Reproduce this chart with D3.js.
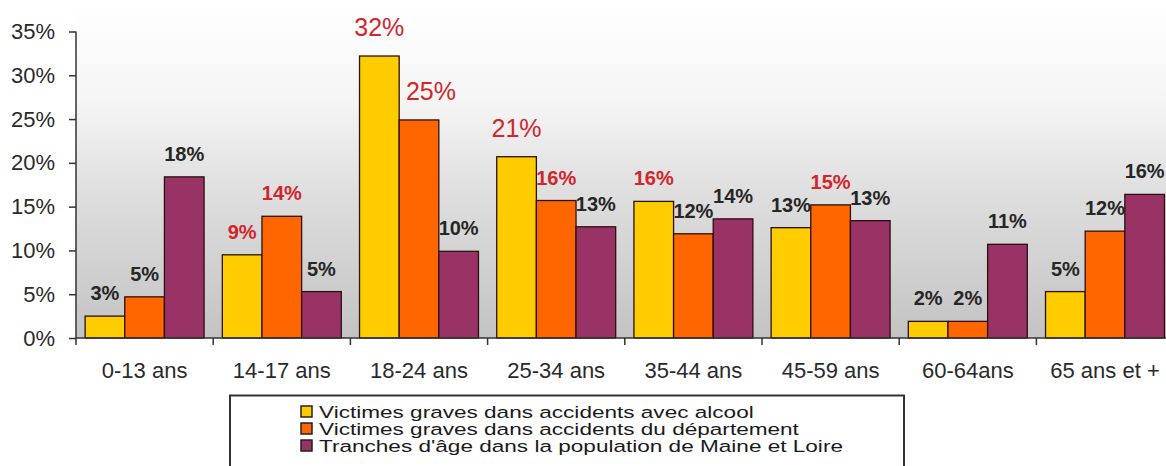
<!DOCTYPE html>
<html><head><meta charset="utf-8">
<script src="https://cdn.jsdelivr.net/npm/d3@7"></script>
<style>html,body{margin:0;padding:0;background:#fff;overflow:hidden}svg{display:block}</style>
</head><body>
<svg id="chart" width="1166" height="466"></svg>
<script>
const categories = ["0-13 ans","14-17 ans","18-24 ans","25-34 ans","35-44 ans","45-59 ans","60-64ans","65 ans et +"];
const seriesNames = ["Victimes graves dans accidents avec alcool","Victimes graves dans accidents du département","Tranches d'âge dans la population de Maine et Loire"];
const alcool = [2.5, 9.5, 32.2, 20.7, 15.6, 12.6, 1.9, 5.3];
const departement = [4.7, 13.9, 24.9, 15.7, 11.9, 15.2, 1.9, 12.2];
const population = [18.4, 5.3, 9.9, 12.7, 13.6, 13.4, 10.7, 16.4];
const labelsAlcool = ["3%","9%","32%","21%","16%","13%","2%","5%"];
const labelsDep = ["5%","14%","25%","16%","12%","15%","2%","12%"];
const labelsPop = ["18%","5%","10%","13%","14%","13%","11%","16%"];
const yTicks = [0,5,10,15,20,25,30,35];

// style: which labels are highlighted (red) and which are large
const redLabels = {"0":[1,2,3,4], "1":[1,2,3,5]};
const bigLabels = {"0":[2,3], "1":[2]};

const series = [alcool, departement, population];
const seriesLabels = [labelsAlcool, labelsDep, labelsPop];
const colors = ["#ffcc00","#ff6600","#993366"];

const svg = d3.select("#chart");
const x0 = 76, yBottom = 338;
const x = d3.scaleBand().domain(categories).range([x0, x0 + 8*137.2]).paddingInner(0.133).paddingOuter(0.0665);
const xs = d3.scaleBand().domain([0,1,2]).range([0, x.bandwidth()]);
const y = d3.scaleLinear().domain([0,35]).range([yBottom, 31.5]);

// background gradient
const defs = svg.append("defs");
const g = defs.append("linearGradient").attr("id","bg").attr("x1",0).attr("y1",0).attr("x2",0).attr("y2",1);
[[0,"#ffffff"],[0.3,"#f5f5f5"],[0.55,"#e0e0e0"],[1,"#c3c3c3"]].forEach(s=>g.append("stop").attr("offset",s[0]).attr("stop-color",s[1]));
svg.append("rect").attr("x",x0).attr("y",0).attr("width",1166-x0).attr("height",yBottom).attr("fill","url(#bg)");

// bars
series.forEach((vals, si) => {
  svg.append("g").selectAll("rect").data(vals).join("rect")
    .attr("x",(d,i)=>x(categories[i]) + xs(si))
    .attr("y",d=>y(d))
    .attr("width",xs.bandwidth())
    .attr("height",d=>yBottom - y(d))
    .attr("fill",colors[si])
    .attr("stroke","#2a1010").attr("stroke-width",1.3);
});

// y axis
const yAxis = d3.axisLeft(y).tickValues(yTicks).tickFormat(d=>d+"%").tickSize(7).tickPadding(14);
const ya = svg.append("g").attr("transform",`translate(${x0},0)`).call(yAxis);
ya.select(".domain").remove();
ya.append("line").attr("x1",0).attr("x2",0).attr("y1",y(35)).attr("y2",yBottom+7).attr("stroke","#333").attr("stroke-width",1.5);
ya.selectAll(".tick line").attr("stroke","#333").attr("stroke-width",1.5);
ya.selectAll(".tick text").attr("font-family","Liberation Sans, Arial, sans-serif").attr("font-size",22).attr("fill","#2a2a2a");

// x axis
svg.append("line").attr("x1",x0).attr("x2",1166).attr("y1",yBottom).attr("y2",yBottom).attr("stroke","#333").attr("stroke-width",1.5);
const bounds = categories.slice(1).map(c => x(c) - x.step()*x.paddingOuter());
svg.append("g").selectAll("line").data(bounds).join("line")
  .attr("x1",d=>d).attr("x2",d=>d).attr("y1",yBottom).attr("y2",yBottom+7).attr("stroke","#333").attr("stroke-width",1.5);
svg.append("g").selectAll("text").data(categories).join("text")
  .attr("x",d=>x(d)+x.bandwidth()/2).attr("y",378)
  .attr("text-anchor","middle").attr("font-family","Liberation Sans, Arial, sans-serif").attr("font-size",22).attr("fill","#2a2a2a")
  .text(d=>d);

// value labels
seriesLabels.forEach((labs, si) => {
  const reds = redLabels[si] || [], bigs = bigLabels[si] || [];
  svg.append("g").selectAll("text").data(labs).join("text")
    .attr("x",(d,i)=>x(categories[i]) + xs(si) + xs.bandwidth()/2 + (bigs.includes(i) && si===1 ? 12 : 0))
    .attr("y",(d,i)=>y(series[si][i]) - (bigs.includes(i) ? 20 : 16))
    .attr("text-anchor","middle")
    .attr("font-family","Liberation Sans, Arial, sans-serif")
    .attr("font-size",(d,i)=>bigs.includes(i) ? 25 : 20)
    .attr("font-weight",(d,i)=>bigs.includes(i) ? "normal" : "bold")
    .attr("fill",(d,i)=>reds.includes(i) ? "#d0262c" : "#262626")
    .text(d=>d);
});

// legend
const lg = svg.append("g");
lg.append("rect").attr("x",230).attr("y",395.5).attr("width",674).attr("height",90).attr("fill","#fff").attr("stroke","#333").attr("stroke-width",2);
const legTexts = [];
seriesNames.forEach((n, i) => {
  const by = 418 + i*17;
  lg.append("rect").attr("x",301).attr("y",by-12).attr("width",11).attr("height",11).attr("fill",colors[i]).attr("stroke","#222").attr("stroke-width",1.5);
  const t = lg.append("g").attr("transform",`translate(319,${by})`)
    .append("text").attr("x",0).attr("y",0).attr("font-family","Liberation Sans, Arial, sans-serif").attr("font-size",17).attr("fill","#1a1a1a").text(n);
  legTexts.push(t);
});
// stretch legend text horizontally to match the original's wide rendering
const natural = legTexts[0].node().getComputedTextLength();
const sx = 435 / natural;
legTexts.forEach(t => t.attr("transform",`scale(${sx},1)`));
</script>
</body></html>
